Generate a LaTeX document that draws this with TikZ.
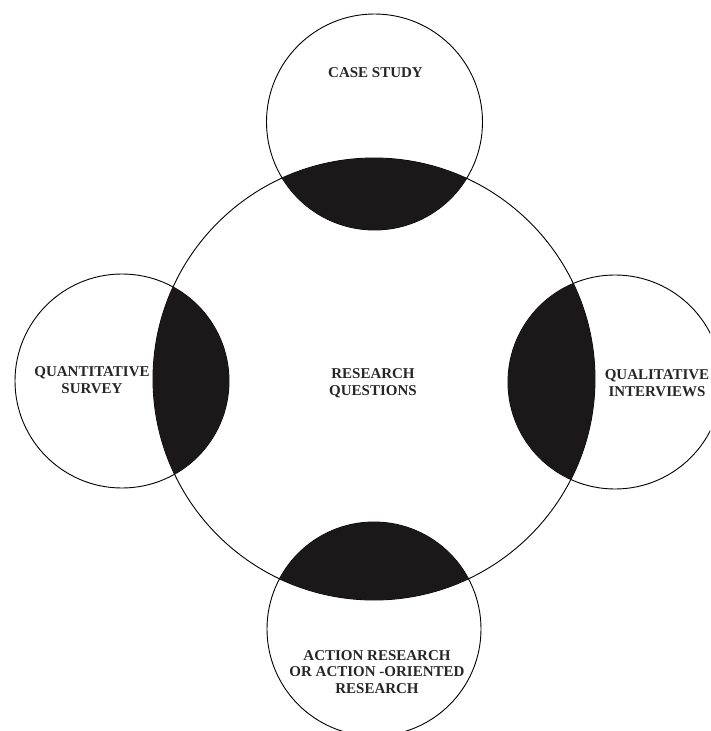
\documentclass[tikz,border=0pt]{standalone}
\usepackage{fontspec}
\setmainfont{Liberation Serif}
\usetikzlibrary{shapes.geometric}
\definecolor{lensgray}{HTML}{1A1818}
\tikzstyle{ring} = [draw, circle, line width=0.9pt, inner sep=0pt]
\tikzstyle{lens} = [fill=lensgray]

\begin{document}
\begin{tikzpicture}[x=1pt, y=-1pt, every node/.style={font=\bfseries\fontsize{15}{16.5}\selectfont, align=center, text=black!85}]
        \clip (0,0) rectangle (710,731);
        % Circle positions
        \node[ring, minimum size=442pt] (RQ) at (374,379) {};
        \node[ring, minimum size=216pt] (CS) at (374.5,122) {};
        \node[ring, minimum size=214pt] (QS) at (122,381) {};
        \node[ring, minimum size=214pt] (QI) at (615,382) {};
        \node[ring, minimum size=214pt] (AR) at (374,629) {};

        % Overlaps
        \begin{scope}
          \clip (RQ.center) circle (221pt);
          \fill[lens] (CS.center) circle (108pt);
          \fill[lens] (QS.center) circle (107pt);
          \fill[lens] (QI.center) circle (107pt);
          \fill[lens] (AR.center) circle (107pt);
        \end{scope}

        % Labels
        \node (rq text) at (373,383) {RESEARCH\\QUESTIONS};
        \node (cs text) at (375.5,73) {CASE STUDY};
        \node (qs text) at (92,380) {QUANTITATIVE\\SURVEY};
        \node (qi text) at (657,383) {QUALITATIVE\\INTERVIEWS};
        \node (ar text) at (377,672) {ACTION RESEARCH\\OR ACTION -ORIENTED\\RESEARCH};
      \end{tikzpicture}
\end{document}
